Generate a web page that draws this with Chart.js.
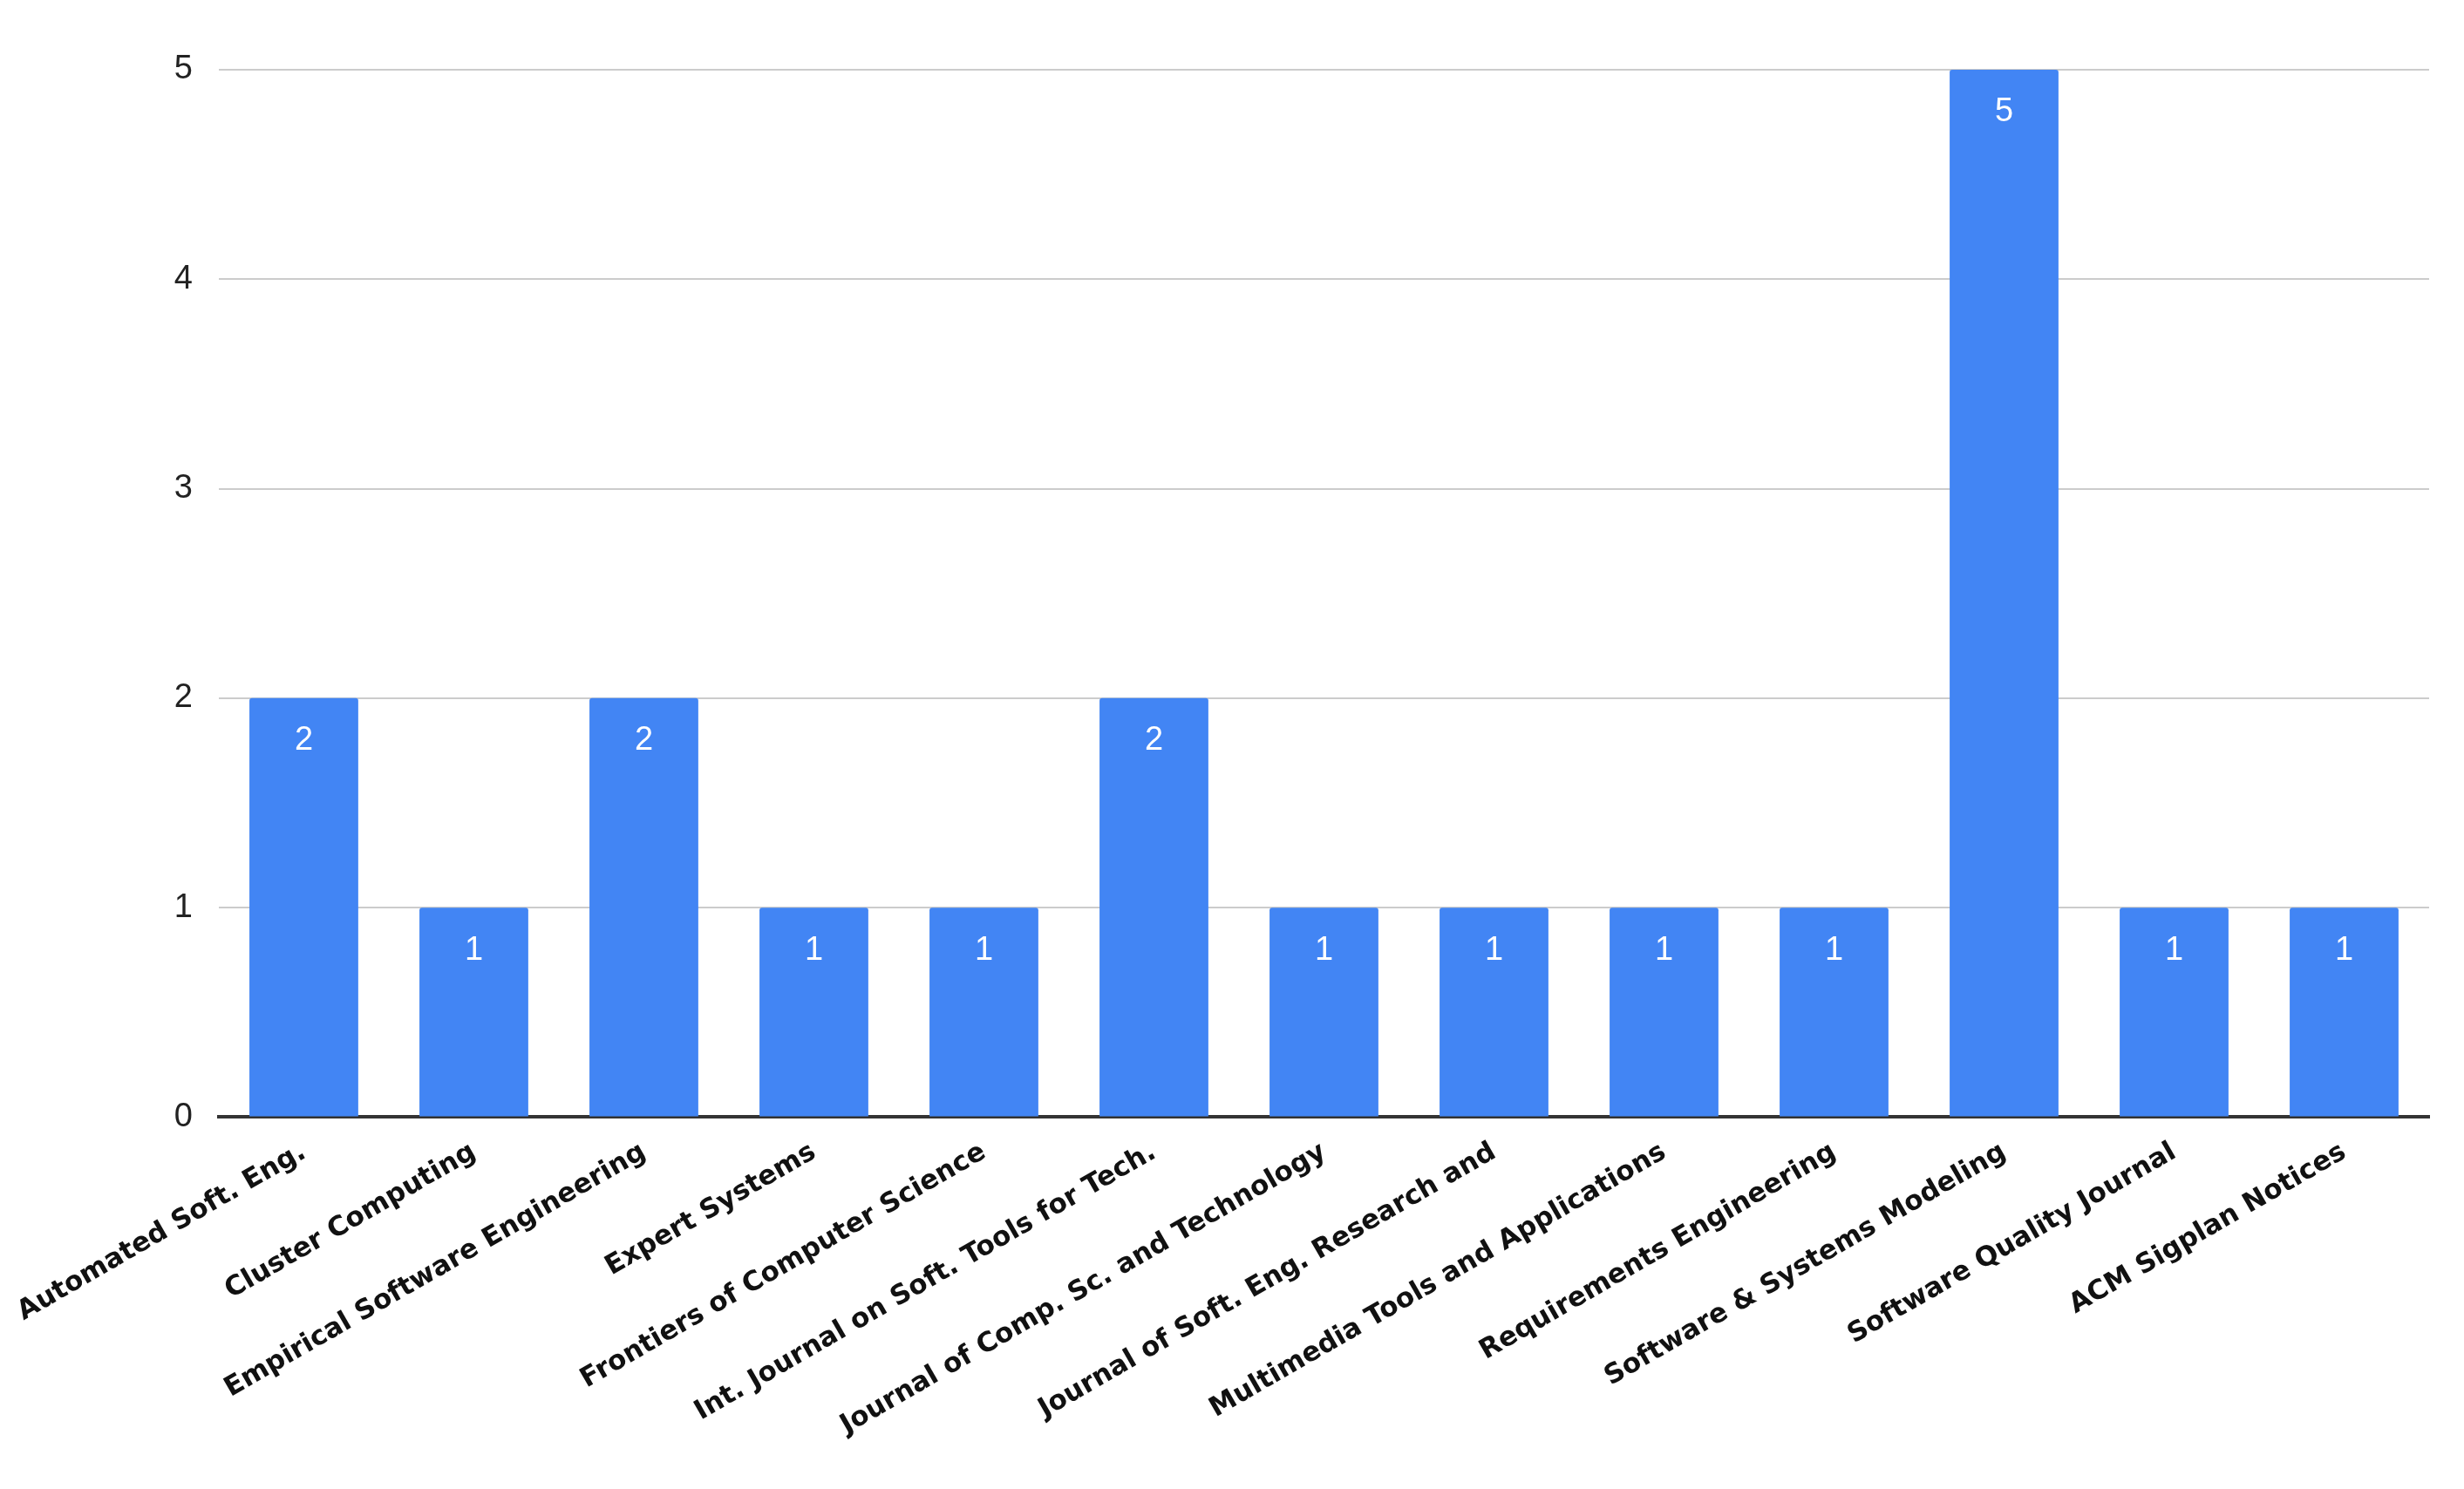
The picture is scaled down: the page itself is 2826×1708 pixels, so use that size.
<!DOCTYPE html>
<html>
<head>
<meta charset="utf-8">
<script src="https://cdn.jsdelivr.net/npm/chart.js@4/dist/chart.umd.min.js"></script>
<style>
  html, body { margin: 0; padding: 0; background: #fff; }
</style>
</head>
<body>
<canvas id="chart" width="2826" height="1708"></canvas>
<script>
// 期刊名称
const categories = [
    'Automated Soft. Eng.',
    'Cluster Computing',
    'Empirical Software Engineering',
    'Expert Systems',
    'Frontiers of Computer Science',
    'Int. Journal on Soft. Tools for Tech.',
    'Journal of Comp. Sc. and Technology',
    'Journal of Soft. Eng. Research and',
    'Multimedia Tools and Applications',
    'Requirements Engineering',
    'Software & Systems Modeling',
    'Software Quality Journal',
    'ACM Sigplan Notices'
];
// 论文数量
const counts = [2, 1, 2, 1, 1, 2, 1, 1, 1, 1, 5, 1, 1];
const yTicks = [0, 1, 2, 3, 4, 5];

// 柱内数值标签
const insideLabels = {
    id: 'insideLabels',
    afterDatasetsDraw(chart) {
        const ctx = chart.ctx;
        const meta = chart.getDatasetMeta(0);
        ctx.save();
        ctx.fillStyle = '#ffffff';
        ctx.font = '38px "Liberation Sans", Arial, sans-serif';
        ctx.textAlign = 'center';
        ctx.textBaseline = 'top';
        meta.data.forEach((bar, i) => {
            ctx.fillText(String(counts[i]), bar.x, bar.y + 30);
        });
        ctx.restore();
    }
};

new Chart(document.getElementById('chart'), {
    type: 'bar',
    data: {
        labels: categories,
        datasets: [{
            data: counts,
            backgroundColor: '#4285f4',
            barPercentage: 0.64,
            categoryPercentage: 1.0,
            borderRadius: { topLeft: 3, topRight: 3 },
            borderSkipped: 'bottom'
        }]
    },
    options: {
        responsive: false,
        animation: false,
        devicePixelRatio: 1,
        layout: { padding: { left: 150, right: 40, top: 80, bottom: 40 } },
        plugins: { legend: { display: false }, tooltip: { enabled: false } },
        scales: {
            x: {
                grid: { display: false },
                border: { color: '#333333', width: 4 },
                ticks: {
                    color: '#111111',
                    font: { size: 31, weight: 'bold', family: '"DejaVu Sans", sans-serif' },
                    minRotation: 30,
                    maxRotation: 30,
                    autoSkip: false,
                    padding: 14
                }
            },
            y: {
                min: 0,
                max: 5,
                afterBuildTicks: axis => { axis.ticks = yTicks.map(v => ({ value: v })); },
                grid: { color: '#cccccc', lineWidth: 2, drawTicks: false },
                border: { display: false },
                ticks: {
                    color: '#222222',
                    font: { size: 38, family: '"Liberation Sans", Arial, sans-serif' },
                    padding: 30
                }
            }
        }
    },
    plugins: [insideLabels]
});
</script>
</body>
</html>
